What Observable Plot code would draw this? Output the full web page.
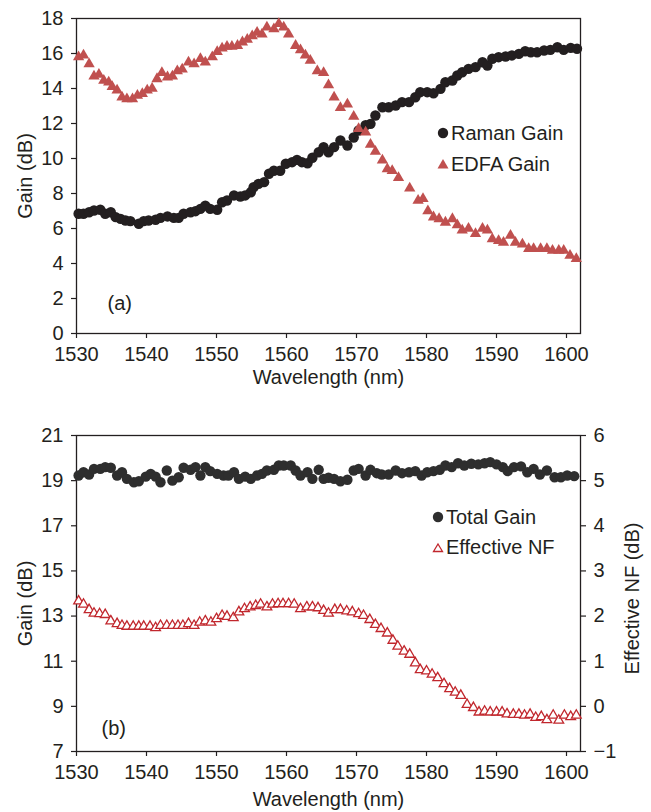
<!DOCTYPE html>
<html>
<head>
<meta charset="utf-8">
<script src="https://cdn.jsdelivr.net/npm/d3@7"></script>
<script src="https://cdn.jsdelivr.net/npm/@observablehq/plot@0.6"></script>
<style>
  html, body { margin: 0; padding: 0; background: #fff; }
  #wrap { position: relative; width: 651px; height: 812px; font-family: "Liberation Sans", Arial, sans-serif; color: #231f20; }
  #wrap svg { display: block; }
  .leg { position: absolute; font-size: 20px; line-height: 1; white-space: nowrap; display: flex; align-items: center; }
  .leg svg { display: inline-block; margin-right: 2px; }
</style>
</head>
<body>
<div id="wrap"></div>
<script>
// ---------- Data: panel (a) ----------
const ramanWl = [1530.3,1531.0,1531.8,1532.5,1533.4,1534.1,1534.9,1535.6,1536.3,1537.0,1537.7,1538.9,1539.6,1540.3,1541.3,1542.0,1543.0,1543.9,1544.6,1545.3,1546.3,1547.0,1547.7,1548.4,1549.1,1550.1,1550.8,1551.5,1552.5,1553.4,1554.1,1554.9,1555.3,1556.0,1556.8,1557.5,1558.2,1559.1,1559.9,1560.8,1561.5,1562.2,1563.0,1563.7,1564.6,1565.3,1566.0,1566.8,1567.7,1568.7,1569.6,1570.3,1571.3,1572.0,1572.7,1573.7,1574.6,1575.6,1576.5,1577.5,1578.4,1579.1,1580.1,1581.0,1582.0,1582.7,1583.7,1584.4,1585.1,1586.0,1587.0,1588.0,1588.7,1589.4,1590.3,1591.3,1592.2,1593.2,1594.1,1594.9,1595.8,1596.8,1597.7,1598.7,1599.6,1600.6,1601.5];
const ramanGain = [6.84,6.84,6.93,7.03,7.07,6.84,6.93,6.65,6.55,6.46,6.42,6.27,6.42,6.46,6.5,6.61,6.69,6.61,6.61,6.84,6.93,6.99,7.12,7.31,7.12,7.07,7.5,7.6,7.89,7.83,7.89,8.07,8.36,8.55,8.65,9.13,9.3,9.3,9.7,9.79,9.92,9.79,9.73,10.04,10.36,10.65,10.36,10.65,11.03,10.74,11.2,11.6,11.9,11.98,12.46,12.93,12.93,13.03,13.22,13.22,13.5,13.79,13.79,13.73,13.98,14.36,14.46,14.74,14.93,15.12,15.22,15.5,15.31,15.7,15.79,15.83,15.89,15.98,16.13,16.07,16.07,16.17,16.21,16.36,16.21,16.32,16.27];

const edfaWl = [1530.3,1531.0,1531.8,1532.5,1533.2,1533.9,1534.6,1535.1,1535.8,1536.5,1537.2,1538.0,1538.7,1539.4,1540.1,1540.8,1541.5,1542.2,1543.0,1543.7,1544.4,1545.1,1546.0,1546.8,1547.7,1548.4,1549.4,1550.1,1550.8,1551.5,1552.2,1553.0,1553.7,1554.4,1555.1,1555.8,1556.5,1557.2,1558.2,1558.9,1559.6,1560.3,1561.3,1562.0,1562.7,1563.4,1564.4,1565.3,1566.0,1566.8,1567.7,1568.7,1569.6,1570.3,1571.3,1572.0,1572.7,1573.7,1574.4,1575.1,1576.0,1577.6,1578.8,1579.5,1580.2,1581.0,1581.8,1582.7,1583.7,1584.4,1585.1,1586.0,1587.0,1588.0,1588.7,1589.4,1590.3,1591.0,1592.0,1592.7,1593.7,1594.6,1595.3,1596.3,1597.2,1598.0,1598.9,1599.6,1600.5,1601.4];
const edfaGain = [15.8,15.9,15.4,14.7,14.8,14.46,14.36,14.1,13.9,13.5,13.4,13.4,13.6,13.7,13.9,14.0,14.55,14.9,14.65,14.7,15.0,15.1,15.5,15.4,15.7,15.5,15.8,16.1,16.3,16.4,16.4,16.45,16.65,16.8,17.0,17.2,17.1,17.5,17.4,17.7,17.5,17.1,16.45,16.2,15.9,15.6,15.0,14.9,14.2,13.5,12.9,13.1,12.4,11.7,11.5,10.8,10.4,9.9,9.4,9.3,8.9,8.3,7.6,7.7,7.0,6.65,6.55,6.35,6.55,6.2,5.9,6.0,5.7,6.0,5.9,5.4,5.3,5.2,5.6,5.2,5.1,4.84,4.84,4.84,4.84,4.74,4.74,4.74,4.46,4.27];

// ---------- Data: panel (b) ----------
const totalWl = [1530.3,1531.0,1531.8,1532.5,1533.4,1534.1,1534.9,1535.8,1536.5,1537.2,1538.2,1538.9,1539.9,1540.6,1541.3,1542.0,1542.9,1543.7,1544.6,1545.3,1546.3,1547.0,1547.7,1548.4,1549.1,1550.1,1551.0,1551.7,1552.5,1553.2,1554.1,1554.9,1555.8,1556.5,1557.2,1558.2,1558.9,1559.6,1560.6,1561.3,1562.0,1563.0,1563.7,1564.6,1565.3,1566.0,1566.8,1567.7,1568.7,1569.6,1570.3,1571.3,1572.0,1572.9,1573.6,1574.6,1575.6,1576.5,1577.5,1578.4,1579.3,1580.1,1581.0,1581.9,1582.7,1583.6,1584.5,1585.4,1586.4,1587.4,1588.3,1589.1,1590.0,1590.9,1591.6,1592.5,1593.5,1594.4,1595.3,1596.2,1597.2,1598.3,1599.2,1600.1,1601.1];
const totalGain = [19.23,19.37,19.27,19.52,19.52,19.6,19.57,19.23,19.37,19.08,18.93,18.97,19.18,19.3,19.18,18.93,19.45,19.0,19.15,19.57,19.48,19.6,19.23,19.6,19.42,19.3,19.23,19.23,19.37,19.08,19.18,19.08,19.23,19.3,19.45,19.48,19.67,19.67,19.67,19.45,19.23,19.37,19.08,19.48,19.08,19.13,19.08,18.97,19.04,19.45,19.52,19.23,19.48,19.33,19.27,19.27,19.45,19.33,19.37,19.42,19.23,19.37,19.42,19.48,19.67,19.6,19.77,19.67,19.75,19.72,19.77,19.82,19.72,19.6,19.42,19.6,19.63,19.37,19.52,19.27,19.45,19.15,19.15,19.23,19.2];

const nfWl = [1530.3,1531.0,1531.8,1532.5,1533.3,1534.1,1534.9,1535.8,1536.5,1537.2,1538.1,1538.9,1539.6,1540.5,1541.3,1542.0,1542.9,1543.7,1544.5,1545.2,1546.0,1546.8,1547.6,1548.4,1549.2,1550.0,1550.8,1551.5,1552.4,1553.2,1554.0,1554.8,1555.6,1556.3,1557.2,1558.0,1558.8,1559.5,1560.3,1561.1,1562.0,1562.9,1563.7,1564.5,1565.3,1566.0,1566.9,1567.7,1568.6,1569.4,1570.3,1571.0,1571.9,1572.7,1573.5,1574.4,1575.2,1575.9,1576.8,1577.6,1578.4,1579.1,1580.0,1580.8,1581.6,1582.5,1583.3,1584.1,1584.9,1585.8,1586.7,1587.5,1588.3,1589.1,1590.0,1590.8,1591.5,1592.4,1593.2,1594.0,1594.8,1595.6,1596.4,1597.2,1598.1,1598.9,1599.7,1600.6,1601.4];
const nfDb = [2.33,2.26,2.14,2.06,2.05,2.03,1.89,1.83,1.79,1.77,1.77,1.77,1.77,1.77,1.74,1.79,1.79,1.79,1.79,1.79,1.83,1.79,1.86,1.89,1.86,1.94,2.01,1.99,1.96,2.09,2.16,2.2,2.23,2.26,2.2,2.26,2.27,2.27,2.27,2.26,2.16,2.2,2.2,2.18,2.12,2.06,2.14,2.14,2.11,2.09,2.05,2.01,1.92,1.81,1.72,1.62,1.46,1.33,1.22,1.15,0.96,0.81,0.78,0.71,0.63,0.5,0.39,0.31,0.24,0.04,-0.03,-0.13,-0.11,-0.13,-0.13,-0.13,-0.17,-0.18,-0.18,-0.2,-0.18,-0.25,-0.23,-0.3,-0.2,-0.31,-0.2,-0.23,-0.2];

// ---------- Ticks / labels ----------
const xTicks = [1530,1540,1550,1560,1570,1580,1590,1600];
const yTicksA = [0,2,4,6,8,10,12,14,16,18];
const yTicksB = [7,9,11,13,15,17,19,21];
const nfTicks = [-1,0,1,2,3,4,5,6];
const xTitle = "Wavelength (nm)";
const gainTitle = "Gain (dB)";
const nfTitle = "Effective NF (dB)";

const ink = "#231f20";
const edfaRed = "#c0504f";
const nfRed = "#c1272d";
const font = "Liberation Sans, Arial, Helvetica, sans-serif";

// map NF (right axis, -1..6) onto the gain scale (7..21)
const nfToGain = v => 7 + (v + 1) * 2;
const gainToNf = g => (g - 7) / 2 - 1;

const raman = ramanWl.map((w, i) => ({w, g: ramanGain[i]}));
const edfa = edfaWl.map((w, i) => ({w, g: edfaGain[i]}));
const total = totalWl.map((w, i) => ({w, g: totalGain[i]}));
const nf = nfWl.map((w, i) => ({w, g: nfToGain(nfDb[i])}));

const fmtMinus = d => (d < 0 ? "\u2212" + Math.abs(d) : String(d));

const plotA = Plot.plot({
  width: 651, height: 390,
  marginTop: 18, marginLeft: 76, marginRight: 71, marginBottom: 57,
  style: {fontFamily: font, fontSize: "20px", color: ink, background: "white", overflow: "visible"},
  x: {domain: [1530, 1602]},
  y: {domain: [0, 18]},
  marks: [
    Plot.axisX({ticks: xTicks, tickFormat: d => String(d), tickSize: 5, tickPadding: 8, stroke: ink, strokeWidth: 1.2,
      label: xTitle, labelAnchor: "center", labelOffset: 50, labelArrow: false}),
    Plot.axisY({ticks: yTicksA, tickFormat: d => String(d), tickSize: 5, tickPadding: 8, stroke: ink, strokeWidth: 1.2, label: null}),
    Plot.text([gainTitle], {frameAnchor: "left", rotate: -90, dx: -51, dy: 0, fontSize: 20, fill: ink, textAnchor: "middle"}),
    Plot.frame({stroke: ink, strokeWidth: 1.3}),
    Plot.dot(raman, {x: "w", y: "g", r: 5.2, fill: ink, stroke: "none"}),
    Plot.dot(edfa, {x: "w", y: "g", r: 4.2, symbol: "triangle", fill: edfaRed, stroke: "none"}),
    Plot.text(["(a)"], {frameAnchor: "bottom-left", dx: 31, dy: -24, fontSize: 20, fill: ink})
  ]
});

const plotB = Plot.plot({
  width: 651, height: 422,
  marginTop: 45, marginLeft: 76, marginRight: 71, marginBottom: 61,
  style: {fontFamily: font, fontSize: "20px", color: ink, background: "white", overflow: "visible"},
  x: {domain: [1530, 1602]},
  y: {domain: [7, 21]},
  marks: [
    Plot.axisX({ticks: xTicks, tickFormat: d => String(d), tickSize: 5, tickPadding: 8, stroke: ink, strokeWidth: 1.2,
      label: xTitle, labelAnchor: "center", labelOffset: 54, labelArrow: false}),
    Plot.axisY({ticks: yTicksB, tickFormat: d => String(d), tickSize: 5, tickPadding: 8, stroke: ink, strokeWidth: 1.2, label: null}),
    Plot.axisY({anchor: "right", ticks: nfTicks.map(nfToGain), tickFormat: g => fmtMinus(gainToNf(g)), tickSize: 5, tickPadding: 8,
      stroke: ink, strokeWidth: 1.2, label: null}),
    Plot.text([gainTitle], {frameAnchor: "left", rotate: -90, dx: -51, dy: 10, fontSize: 20, fill: ink, textAnchor: "middle"}),
    Plot.text([nfTitle], {frameAnchor: "right", rotate: -90, dx: 52, dy: 5, fontSize: 20, fill: ink, textAnchor: "middle"}),
    Plot.frame({stroke: ink, strokeWidth: 1.3}),
    Plot.dot(total, {x: "w", y: "g", r: 5.2, fill: "#2e2e2e", stroke: "none"}),
    Plot.dot(nf, {x: "w", y: "g", r: 3.6, symbol: "triangle", fill: "white", stroke: nfRed, strokeWidth: 1.3}),
    Plot.text(["(b)"], {frameAnchor: "bottom-left", dx: 25, dy: -17, fontSize: 20, fill: ink})
  ]
});

const wrap = document.getElementById("wrap");
wrap.appendChild(plotA);
wrap.appendChild(plotB);

// ---------- Legends ----------
const legends = [
  {top: 121, left: 437, label: "Raman Gain", shape: "dot", color: ink},
  {top: 152, left: 437, label: "EDFA Gain", shape: "tri", color: edfaRed},
  {top: 505, left: 432, label: "Total Gain", shape: "dot", color: "#2e2e2e"},
  {top: 535, left: 432, label: "Effective NF", shape: "tri-open", color: nfRed}
];
for (const l of legends) {
  const div = document.createElement("div");
  div.className = "leg";
  div.style.top = l.top + "px";
  div.style.left = l.left + "px";
  let sym;
  if (l.shape === "dot") sym = `<svg width="12" height="24"><circle cx="6" cy="12" r="5.2" fill="${l.color}"/></svg>`;
  else if (l.shape === "tri") sym = `<svg width="12" height="24"><path d="M6,7 L11.5,16.5 L0.5,16.5 Z" fill="${l.color}"/></svg>`;
  else sym = `<svg width="12" height="24"><path d="M6,9 L10.5,16.5 L1.5,16.5 Z" fill="white" stroke="${l.color}" stroke-width="1.3"/></svg>`;
  div.innerHTML = sym + `<span>${l.label}</span>`;
  wrap.appendChild(div);
}
</script>
</body>
</html>
